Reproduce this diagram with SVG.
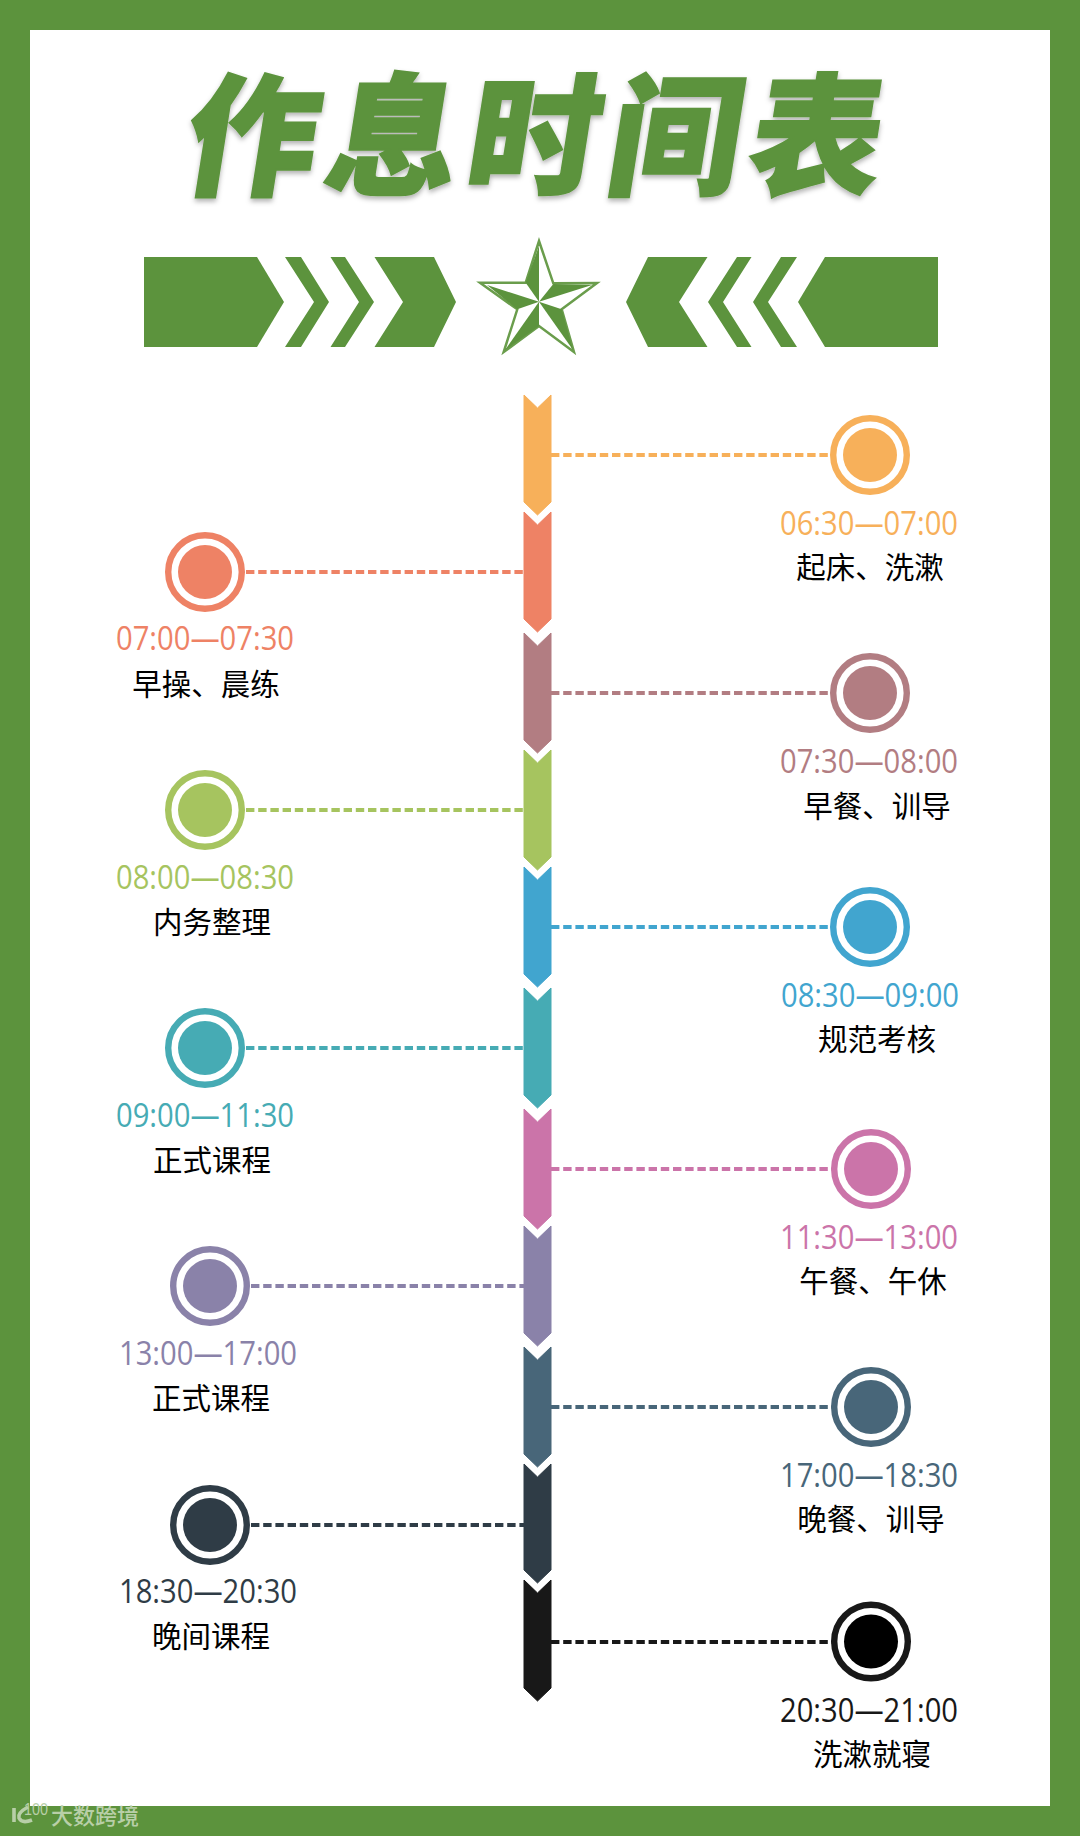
<svg xmlns="http://www.w3.org/2000/svg" width="1080" height="1836" viewBox="0 0 1080 1836">
<style>
.t{font-family:"Open Sans","Noto Sans",sans-serif;font-size:32px;text-anchor:middle;fill:currentColor}
.l{font-family:"Noto Sans CJK SC",sans-serif;font-size:29.5px;text-anchor:middle;fill:#000}
.o{fill:#fff;stroke:currentColor;stroke-width:6.4}
.i{fill:currentColor}
.d{fill:none;stroke-width:4.2;stroke-dasharray:8.4 3.8}
.b{fill:#5c933d}
.s{fill:currentColor;stroke:none}
.c1{color:#f7b05a;stroke:#f7b05a}.c2{color:#ee8265;stroke:#ee8265}.c3{color:#b27d82;stroke:#b27d82}.c4{color:#a6c45f;stroke:#a6c45f}.c5{color:#41a5cf;stroke:#41a5cf}.c6{color:#46abb4;stroke:#46abb4}.c7{color:#cb74a9;stroke:#cb74a9}.c8{color:#8a82a9;stroke:#8a82a9}.c9{color:#486679;stroke:#486679}.c10{color:#2f3c46;stroke:#2f3c46}.c11{color:#181818;stroke:#181818}
g.n{stroke:none}
</style>
<defs>
<filter id="sh" x="-5%" y="-5%" width="110%" height="115%"><feDropShadow dx="0" dy="3" stdDeviation="2.5" flood-color="#000" flood-opacity=".3"/></filter>
<g id="ring"><circle class="o" r="36.8"/><circle class="i" r="27"/></g>
</defs>
<rect width="1080" height="1836" class="b"/>
<rect x="30" y="30" width="1020" height="1776" fill="#fff"/>
<g id="title" filter="url(#sh)" font-family="'Noto Sans CJK SC',sans-serif" font-weight="900" font-size="132" fill="#5c933d" stroke="#5c933d" stroke-width="2">
<text transform="translate(180,185) skewX(-9)" textLength="696" lengthAdjust="spacing">作息时间表</text>
</g>
<g id="banner" class="b">
<polygon points="144,257 257,257 284,302 257,347 144,347"/>
<polygon points="285,257 301,257 329,302 301,347 285,347 314,302"/>
<polygon points="330.500,257 345,257 374,302 345,347 330.500,347 359,302"/>
<polygon points="374.500,257 434,257 456,302 434,347 374.500,347 403,302"/>
<polygon points="938,257 825,257 798,302 825,347 938,347"/>
<polygon points="797,257 781,257 753,302 781,347 797,347 768,302"/>
<polygon points="751.500,257 737,257 708,302 737,347 751.500,347 723,302"/>
<polygon points="707.500,257 648,257 626,302 648,347 707.500,347 679,302"/>
</g>
<g id="star">
<polygon points="539,241 553.300,283.300 597,283 561.700,309.300 574,352 539,326 503.700,352 517.300,309.300 480,282.700 525.700,282.700" fill="#fff" stroke="#6a9d4c" stroke-width="2.500"/>
<polygon class="b" points="539,246 539,301.700 525.700,282.700"/>
<polygon class="b" points="539,301.700 553.300,284 592,285"/>
<polygon class="b" points="539,301.700 561.700,309.300 573,350"/>
<polygon class="b" points="539,301.700 539,326 505,350"/>
<polygon class="b" points="539,301.700 517.300,309.300 487,285"/>
</g>
<g id="timeline">
<polygon class="s c1" points="524,395 537.500,408 551,395 551,502 537.500,515 524,502"/>
<polygon class="s c2" points="524,512 537.500,525 551,512 551,619 537.500,632 524,619"/>
<polygon class="s c3" points="524,633 537.500,646 551,633 551,740 537.500,753 524,740"/>
<polygon class="s c4" points="524,750 537.500,763 551,750 551,857 537.500,870 524,857"/>
<polygon class="s c5" points="524,867 537.500,880 551,867 551,974 537.500,987 524,974"/>
<polygon class="s c6" points="524,988 537.500,1001 551,988 551,1095 537.500,1108 524,1095"/>
<polygon class="s c7" points="524,1109 537.500,1122 551,1109 551,1216 537.500,1229 524,1216"/>
<polygon class="s c8" points="524,1226 537.500,1239 551,1226 551,1333 537.500,1346 524,1333"/>
<polygon class="s c9" points="524,1347 537.500,1360 551,1347 551,1454 537.500,1467 524,1454"/>
<polygon class="s c10" points="524,1464 537.500,1477 551,1464 551,1570 537.500,1583 524,1570"/>
<polygon class="s c11" points="524,1580 537.500,1593 551,1580 551,1688 537.500,1701 524,1688"/>
</g>
<g id="connectors">
<path class="d c1" d="M551 455H834"/>
<path class="d c2" d="M246 572H524"/>
<path class="d c3" d="M551 693H834"/>
<path class="d c4" d="M246 810H524"/>
<path class="d c5" d="M551 927H834"/>
<path class="d c6" d="M246 1048H524"/>
<path class="d c7" d="M551 1169H835"/>
<path class="d c8" d="M251 1286H524"/>
<path class="d c9" d="M551 1407H835"/>
<path class="d c10" d="M251 1525H524"/>
<path class="d c11" d="M551 1642H835"/>
</g>
<g id="node1" class="n c1"><use href="#ring" x="870" y="455"/><text class="t" x="869" y="535" textLength="178" lengthAdjust="spacingAndGlyphs">06:30—07:00</text><text class="l" x="870" y="578">起床、洗漱</text></g>
<g id="node2" class="n c2"><use href="#ring" x="205" y="572"/><text class="t" x="205" y="650" textLength="178" lengthAdjust="spacingAndGlyphs">07:00—07:30</text><text class="l" x="206" y="694.500">早操、晨练</text></g>
<g id="node3" class="n c3"><use href="#ring" x="870" y="693"/><text class="t" x="869" y="773" textLength="178" lengthAdjust="spacingAndGlyphs">07:30—08:00</text><text class="l" x="877" y="817">早餐、训导</text></g>
<g id="node4" class="n c4"><use href="#ring" x="205" y="810"/><text class="t" x="205" y="889" textLength="178" lengthAdjust="spacingAndGlyphs">08:00—08:30</text><text class="l" x="212" y="933">内务整理</text></g>
<g id="node5" class="n c5"><use href="#ring" x="870" y="927"/><text class="t" x="870" y="1007" textLength="178" lengthAdjust="spacingAndGlyphs">08:30—09:00</text><text class="l" x="877" y="1050">规范考核</text></g>
<g id="node6" class="n c6"><use href="#ring" x="205" y="1048"/><text class="t" x="205" y="1127" textLength="178" lengthAdjust="spacingAndGlyphs">09:00—11:30</text><text class="l" x="212" y="1171">正式课程</text></g>
<g id="node7" class="n c7"><use href="#ring" x="871" y="1169"/><text class="t" x="869" y="1249" textLength="178" lengthAdjust="spacingAndGlyphs">11:30—13:00</text><text class="l" x="873" y="1292">午餐、午休</text></g>
<g id="node8" class="n c8"><use href="#ring" x="210" y="1286"/><text class="t" x="208" y="1365" textLength="178" lengthAdjust="spacingAndGlyphs">13:00—17:00</text><text class="l" x="211" y="1409">正式课程</text></g>
<g id="node9" class="n c9"><use href="#ring" x="871" y="1407"/><text class="t" x="869" y="1487" textLength="178" lengthAdjust="spacingAndGlyphs">17:00—18:30</text><text class="l" x="871" y="1530">晚餐、训导</text></g>
<g id="node10" class="n c10"><use href="#ring" x="210" y="1525"/><text class="t" x="208" y="1603" textLength="178" lengthAdjust="spacingAndGlyphs">18:30—20:30</text><text class="l" x="211" y="1647">晚间课程</text></g>
<g id="node11" class="n c11"><circle class="o" cx="871" cy="1641.500" r="36.8"/><circle cx="871" cy="1641.500" r="27" fill="#000"/><text class="t" x="869" y="1722" textLength="178" lengthAdjust="spacingAndGlyphs">20:30—21:00</text><text class="l" x="872" y="1765">洗漱就寝</text></g>
<g id="watermark">
<path d="M14 1808V1822M28 1807Q17 1813 19 1818Q22 1824 32 1820" fill="none" stroke="#b8cfa8" stroke-width="3.600"/>
<text x="24" y="1815" font-family="'Liberation Sans',sans-serif" font-size="17" textLength="24" lengthAdjust="spacingAndGlyphs" fill="#b8cfa8">100</text>
<text x="51" y="1824" font-family="'Noto Sans CJK SC',sans-serif" font-size="22" font-weight="500" fill="#b8cfa8">大数跨境</text>
</g>
</svg>
